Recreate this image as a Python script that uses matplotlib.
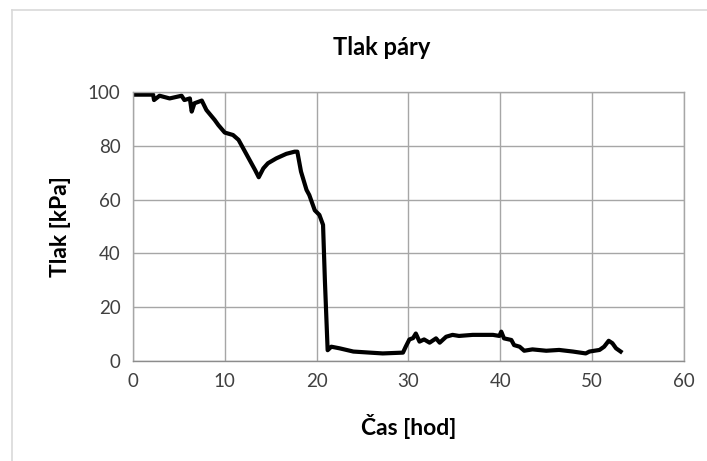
import matplotlib.pyplot as plt
from matplotlib.lines import Line2D

plt.rcParams['font.family'] = ['Lato', 'DejaVu Sans']

# Data
time_h = [0, 1.0, 2.2, 2.3, 2.9, 4.0, 5.3, 5.6, 6.2, 6.4,
          6.7, 7.5, 8.0, 8.9, 9.3, 10.0, 10.9, 11.5, 12.4, 13.3,
          13.7, 14.2, 14.7, 15.6, 16.7, 17.6, 17.9, 18.3, 18.9, 19.2,
          19.8, 20.3, 20.7, 20.9, 21.2, 21.6, 22.5, 24.0, 25.8, 27.2,
          29.4, 29.7, 30.1, 30.5, 30.8, 31.2, 31.7, 32.3, 33.0, 33.4,
          34.1, 34.8, 35.5, 37.0, 38.4, 39.2, 39.9, 40.1, 40.4, 41.2,
          41.5, 42.1, 42.6, 43.5, 45.0, 46.4, 47.9, 49.3, 49.7, 50.8,
          51.3, 51.8, 52.2, 52.6, 53.1]
pressure_kpa = [99, 99, 99, 97, 98.6, 97.6, 98.6, 97, 97.6, 92.7,
                95.8, 96.8, 93.3, 89.6, 87.7, 84.9, 84, 82.2, 76.6, 71,
                68.3, 71.6, 73.5, 75.3, 77, 77.8, 77.8, 70.4, 63.6, 61.7,
                56, 54.3, 50.6, 30, 4, 5.3, 4.7, 3.5, 3.1, 2.8,
                3.1, 5.3, 8, 8.5, 10.2, 7.2, 8, 6.8, 8.4, 6.8,
                9, 9.7, 9.3, 9.7, 9.7, 9.7, 9.3, 10.9, 8.4, 7.8,
                5.9, 5.3, 3.8, 4.3, 3.8, 4.1, 3.5, 2.8, 3.5, 4.1,
                5.3, 7.5, 6.6, 4.7, 3.5]
x_ticks = [0, 10, 20, 30, 40, 50, 60]
y_ticks = [0, 20, 40, 60, 80, 100]

fig = plt.figure(figsize=(7.07, 4.61), dpi=100)
ax = fig.add_axes([0.188, 0.217, 0.7795, 0.5835])

ax.plot(time_h, pressure_kpa, color='black', lw=3.0, solid_joinstyle='round')

ax.set_xlim(0, 60)
ax.set_ylim(0, 100)
ax.set_xticks(x_ticks)
ax.set_yticks(y_ticks)
ax.grid(True, color='#a6a6a6', lw=1.0)
ax.set_axisbelow(True)
for s in ax.spines.values():
    s.set_color('#a6a6a6')
    s.set_linewidth(1.0)
ax.spines['bottom'].set_color('#8c8c8c')
ax.tick_params(length=0, labelsize=13.5, colors='#404040', pad=9)

ax.set_xlabel('Čas [hod]', fontsize=16.5, fontweight='bold', labelpad=17)
ax.set_ylabel('Tlak [kPa]', fontsize=16.5, fontweight='bold', labelpad=12)
fig.text(0.54, 0.897, 'Tlak páry', ha='center', va='center',
         fontsize=17, fontweight='bold')

# chart area border (top and left only visible)
fig.add_artist(Line2D([0.017, 1.0], [0.979, 0.979], color='#d9d9d9', lw=1.2,
                      transform=fig.transFigure))
fig.add_artist(Line2D([0.017, 0.017], [0.0, 0.979], color='#d9d9d9', lw=1.2,
                      transform=fig.transFigure))

fig.savefig('out.png', dpi=100)
